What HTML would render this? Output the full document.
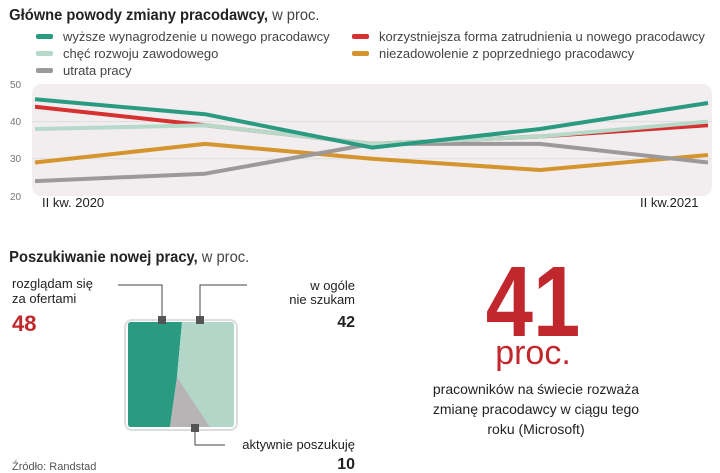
<!DOCTYPE html>
<html><head><meta charset="utf-8"><style>
html,body{margin:0;padding:0;background:#fff;width:720px;height:473px;overflow:hidden}
svg{display:block}
text{font-family:"Liberation Sans",sans-serif}
</style></head><body>
<svg width="720" height="473" viewBox="0 0 720 473" xmlns="http://www.w3.org/2000/svg">
<text x="10" y="20" font-size="16" font-weight="bold" fill="#222" transform="scale(0.92,1)">Główne powody zmiany pracodawcy,<tspan font-weight="normal" fill="#444"> w proc.</tspan></text>
<g font-size="13" fill="#444">
<rect x="36" y="34" width="17" height="5" rx="2" fill="#2a9a80"/><text x="63" y="41">wyższe wynagrodzenie u nowego pracodawcy</text>
<rect x="36" y="51" width="17" height="5" rx="2" fill="#b6d9c9"/><text x="63" y="58">chęć rozwoju zawodowego</text>
<rect x="36" y="68" width="17" height="5" rx="2" fill="#9c999b"/><text x="63" y="75">utrata pracy</text>
<rect x="352" y="34" width="17" height="5" rx="2" fill="#d63031"/><text x="379" y="41">korzystniejsza forma zatrudnienia u nowego pracodawcy</text>
<rect x="352" y="51" width="17" height="5" rx="2" fill="#d4952e"/><text x="379" y="58">niezadowolenie z poprzedniego pracodawcy</text>
</g>
<rect x="32" y="84" width="680" height="112" rx="10" fill="#f2eeef"/>
<line x1="32" y1="121.6" x2="712" y2="121.6" stroke="#ddd"/>
<line x1="32" y1="158.8" x2="712" y2="158.8" stroke="#ddd"/>
<g font-size="10" fill="#777"><text x="10" y="88">50</text><text x="10" y="125">40</text><text x="10" y="162">30</text><text x="10" y="200">20</text></g>
<g fill="none" stroke-width="4" stroke-linejoin="round">
<polyline stroke="#d4952e" points="35,162.5 205,143.9 372,158.8 540,170 708,155"/>
<polyline stroke="#9c999b" points="35,181.1 205,173.7 372,143.9 540,143.9 708,162.5"/>
<polyline stroke="#d63031" points="35,106.7 205,125.3 372,143.9 540,136.5 708,125.3"/>
<polyline stroke="#b6d9c9" points="35,129 205,125.3 372,143.9 540,136.5 708,121.6"/>
<polyline stroke="#2a9a80" points="35,99.3 205,114.2 372,147.6 540,129 708,103"/>
</g>
<g font-size="13" fill="#222"><text x="42" y="207">II kw. 2020</text><text x="640" y="207">II kw.2021</text></g>

<text x="10" y="262" font-size="16" font-weight="bold" fill="#222" transform="scale(0.92,1)">Poszukiwanie nowej pracy,<tspan font-weight="normal" fill="#444"> w proc.</tspan></text>
<g font-size="13" fill="#222">
<text x="12" y="288">rozglądam się</text><text x="12" y="303">za ofertami</text>
<text x="355" y="290" text-anchor="end">w ogóle</text><text x="355" y="304" text-anchor="end">nie szukam</text>
<text x="355" y="449" text-anchor="end">aktywnie poszukuję</text>
</g>
<text x="12" y="331" font-size="22" font-weight="bold" fill="#c0282d">48</text>
<text x="355" y="327" font-size="16" font-weight="bold" fill="#222" text-anchor="end">42</text>
<text x="355" y="469" font-size="16" font-weight="bold" fill="#222" text-anchor="end">10</text>
<text x="12" y="470" font-size="11" fill="#555">Źródło: Randstad</text>
<rect x="125" y="320" width="112" height="110" rx="7" fill="#fff" stroke="#ddd" stroke-width="2"/>
<path d="M131,322 H182 L177,377 L170,427 H131 Q128,427 128,424 V325 Q128,322 131,322Z" fill="#2a9a80"/>
<path d="M182,322 H231 Q234,322 234,325 V424 Q234,427 231,427 H210 L177,377Z" fill="#b2d6c8"/>
<path d="M177,377 L210,427 H170Z" fill="#b7b4b6"/>
<g stroke="#444" fill="none" stroke-width="1"><polyline points="118,285 162,285 162,320"/><polyline points="200,320 200,285 247,285"/><polyline points="195,428 195,445 225,445"/></g>
<g fill="#555"><rect x="158" y="316" width="8" height="8"/><rect x="196" y="316" width="8" height="8"/><rect x="191" y="424" width="8" height="8"/></g>

<text x="533" y="336" font-size="100" font-weight="bold" fill="#c0282d" text-anchor="middle" transform="translate(533,0) scale(0.85,1) translate(-533,0)">41</text>
<text x="533" y="364" font-size="34" fill="#c0282d" text-anchor="middle">proc.</text>
<g font-size="14" fill="#222" text-anchor="middle"><text x="536" y="394">pracowników na świecie rozważa</text><text x="536" y="414">zmianę pracodawcy w ciągu tego</text><text x="536" y="434">roku (Microsoft)</text></g>
</svg>
</body></html>
